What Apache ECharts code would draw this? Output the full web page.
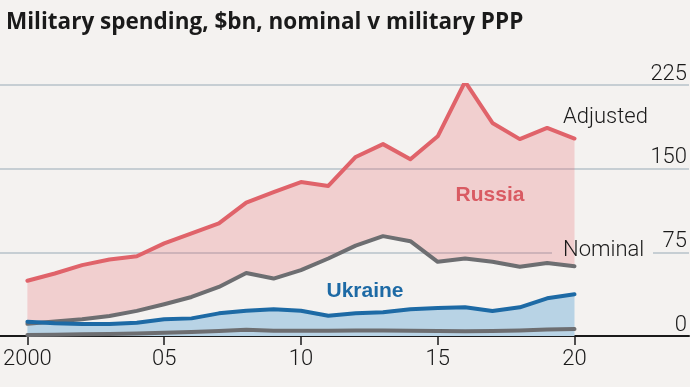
<!DOCTYPE html>
<html><head><meta charset="utf-8">
<script src="https://cdn.jsdelivr.net/npm/echarts@6/dist/echarts.min.js"></script>
<style>html,body{margin:0;padding:0;background:#f4f2f0}#c{width:690px;height:387px}</style>
</head><body><div id="c"></div>
<script>
// ---- data ----
const years = ['2000','2001','2002','2003','2004','2005','2006','2007','2008','2009','2010',
               '2011','2012','2013','2014','2015','2016','2017','2018','2019','2020'];
const russiaAdjusted = [49.5,56,63.5,68.5,71.5,83,92,101,119.5,129,138,134.5,160.5,172,158.5,179,228,191,176.5,186.5,177];
const russiaNominal  = [11,13,15,18,22.5,28.5,35,44,56.5,51.5,59,69.5,81,89.5,85,66.5,69.5,66.5,62,65.5,62.5];
const ukraineAdjusted = [12.8,11.4,10.8,10.8,11.9,15,15.8,20.3,22.7,23.9,22.7,18.2,20.3,21.2,23.9,25,25.7,22.4,25.7,33.8,37.4];
const ukraineNominal  = [1,1.2,1.5,1.8,2.3,3,3.6,4.5,5.5,4.8,4.8,4.8,5,5,4.8,4.5,4.3,4.5,5,5.8,6.3];
const yTicks = [0,75,150,225];
const xTickLabels = {'2000':'2000','2005':'05','2010':'10','2015':'15','2020':'20'};
const labelTexts = {adjusted:'Adjusted', nominal:'Nominal', russia:'Russia', ukraine:'Ukraine'};
const titleText = 'Military spending, $bn, nominal v military PPP';

// ---- chart ----
const BG = '#f4f2f0';
const LIGHT = 'Roboto, "Liberation Sans", sans-serif';
const BOLD = '"Liberation Sans", Arial, sans-serif';
const chart = echarts.init(document.getElementById('c'), null, {renderer:'canvas'});
const band = russiaAdjusted.map((v,i)=> v - russiaNominal[i]);
const grey = '#6d6e71';

chart.setOption({
  backgroundColor: BG,
  animation: false,
  title: {
    text: titleText, left: 1, top: 6,
    textStyle: {fontFamily:'"Open Sans", sans-serif', fontWeight: 700, fontSize: 22.5, color:'#1a1a1a'}
  },
  grid: [
    {left: 0, right: 0, top: 85, bottom: 51},
    {left: 23.5, right: 115.5, top: 85, bottom: 51}
  ],
  xAxis: [
    {gridIndex:0, type:'value', min:0, max:1,
     axisLine:{show:true, lineStyle:{color:'#1a1a1a', width:2}},
     axisTick:{show:false}, axisLabel:{show:false}, splitLine:{show:false}},
    {gridIndex:1, type:'category', data: years, boundaryGap:false,
     axisLine:{show:false},
     axisTick:{show:true, interval: (i, v) => v in xTickLabels, length:9, lineStyle:{color:'#1a1a1a', width:1.5}},
     axisLabel:{interval: (i, v) => v in xTickLabels, formatter: v => xTickLabels[v] || '',
       fontFamily: LIGHT, fontWeight: 300, fontSize:22, color:'#1a1a1a', margin:12},
     splitLine:{show:false}}
  ],
  yAxis: [
    {gridIndex:0, type:'value', position:'right', min: yTicks[0], max: yTicks[yTicks.length-1], interval: yTicks[1]-yTicks[0],
     axisLine:{show:false}, axisTick:{show:false},
     splitLine:{show:true, lineStyle:{color:'#b7c2ca', width:1.5}},
     axisLabel:{inside:true, margin:2, verticalAlign:'bottom', fontFamily: LIGHT, fontWeight: 300, fontSize:22, color:'#1a1a1a'}},
    {gridIndex:1, type:'value', min: yTicks[0], max: yTicks[yTicks.length-1], show:false}
  ],
  series: [
    {name:'ruBase', type:'line', xAxisIndex:1, yAxisIndex:1, data: russiaNominal, stack:'ru',
     showSymbol:false, silent:true, lineStyle:{opacity:0, width:0}},
    {name:'Russia adjusted', type:'line', xAxisIndex:1, yAxisIndex:1, data: band, stack:'ru',
     showSymbol:false, areaStyle:{color:'rgba(233,92,98,0.23)', opacity:1},
     lineStyle:{color:'#e0636a', width:4, join:'round', cap:'round'}},
    {name:'Russia nominal', type:'line', xAxisIndex:1, yAxisIndex:1, data: russiaNominal,
     showSymbol:false, lineStyle:{color:grey, width:4, join:'round', cap:'round'}},
    {name:'Ukraine adjusted', type:'line', xAxisIndex:1, yAxisIndex:1, data: ukraineAdjusted,
     showSymbol:false, areaStyle:{color:'#b8d3e5', opacity:1},
     lineStyle:{color:'#1d6aa5', width:4, join:'round', cap:'round'}},
    {name:'Ukraine nominal', type:'line', xAxisIndex:1, yAxisIndex:1, data: ukraineNominal,
     showSymbol:false, lineStyle:{color:grey, width:4, join:'round', cap:'round'}}
  ],
  graphic: [
    {type:'rect', z:1, shape:{x:552, y:249, width:101, height:6}, style:{fill:BG}},
    {type:'text', z:10, x:563, y:117, style:{text:labelTexts.adjusted, font:'300 22px ' + LIGHT, fill:'#1a1a1a',
      textAlign:'left', textVerticalAlign:'middle'}},
    {type:'text', z:10, x:563, y:250.5, style:{text:labelTexts.nominal, font:'300 22px ' + LIGHT, fill:'#1a1a1a',
      textAlign:'left', textVerticalAlign:'middle'}},
    {type:'text', z:10, x:490, y:195, style:{text:labelTexts.russia, font:'bold 21px ' + BOLD, fill:'#d95b63',
      textAlign:'center', textVerticalAlign:'middle'}},
    {type:'text', z:10, x:365, y:291, style:{text:labelTexts.ukraine, font:'bold 21px ' + BOLD, fill:'#1d6aa5',
      textAlign:'center', textVerticalAlign:'middle'}}
  ]
});
</script>
</body></html>
